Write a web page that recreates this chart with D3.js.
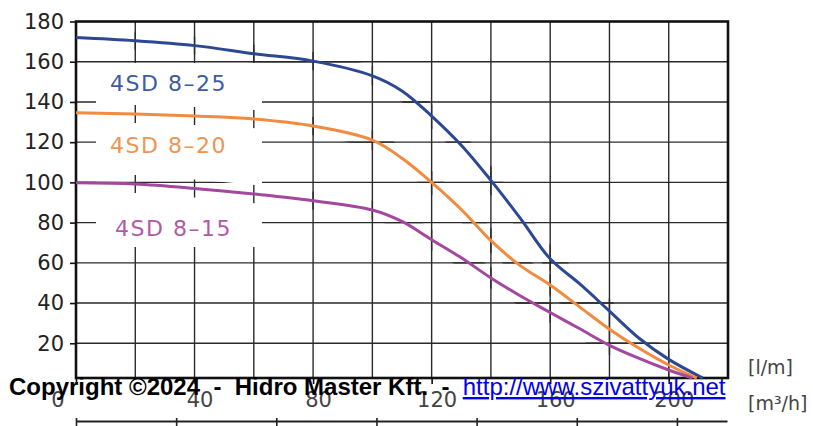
<!DOCTYPE html>
<html>
<head>
<meta charset="utf-8">
<script src="https://cdn.jsdelivr.net/npm/d3@7"></script>
<style>
body { margin: 0; background: #fff; }
svg { display: block; }
</style>
</head>
<body>
<svg width="813" height="426"></svg>
<script>
// flow in l/min, head in m
var flowBlue = [0, 20, 40, 60, 80, 100, 110, 120, 130, 140, 150, 160, 170, 180, 190, 200, 211.5];
var headBlue = [172, 170.4, 168, 164, 160.3, 153, 145.5, 133, 118.5, 101, 82, 62, 49.5, 36, 22.5, 12, 2.7];

var flowOrange = [0, 20, 40, 60, 80, 100, 110, 120, 130, 140, 150, 160, 170, 180, 190, 200, 209.5];
var headOrange = [134.6, 134, 133, 131.5, 128, 121, 112, 100, 86.5, 71, 58.5, 49, 38, 27, 17.5, 9.2, 2.7];

var flowPurple = [0, 20, 40, 60, 80, 100, 110, 120, 130, 140, 150, 160, 170, 180, 190, 200, 208];
var headPurple = [99.8, 99.2, 97, 94.2, 90.9, 86.3, 80.6, 71.5, 62.5, 52.5, 43.5, 35.3, 27.2, 19, 12.5, 6.7, 2.7];

var seriesNames = ["4SD 8\u201325", "4SD 8\u201320", "4SD 8\u201315"];

var headTicks = [20, 40, 60, 80, 100, 120, 140, 160, 180];
var flowGrid = [20, 40, 60, 80, 100, 120, 140, 160, 180, 200];
var flowTicks = [0, 40, 80, 120, 160, 200];
var m3hTicks = [0, 2, 4, 6, 8, 10, 12];

var svg = d3.select("svg");

var x = d3.scaleLinear().domain([0, 220]).range([76, 728]);
var y = d3.scaleLinear().domain([0, 180]).range([383.5, 21.5]);
var xm = d3.scaleLinear().domain([0, 13]).range([76, 727]);
var frameBottom = 378;

var series = [
    { name: seriesNames[0], color: "#2c4892", label: "#3d5ba3", flows: flowBlue, heads: headBlue, lx: 110, ly: 91 },
    { name: seriesNames[1], color: "#f08b3f", label: "#ee9552", flows: flowOrange, heads: headOrange, lx: 110, ly: 153 },
    { name: seriesNames[2], color: "#a3489e", label: "#b05aa9", flows: flowPurple, heads: headPurple, lx: 115, ly: 236 }
];
series.forEach(s => { s.points = s.flows.map((f, i) => [f, s.heads[i]]); });

var line = d3.line()
    .x(d => x(d[0]))
    .y(d => y(d[1]))
    .curve(d3.curveCatmullRom.alpha(0.5));

// mask: grid stays visible only close to the curves inside the label box
var defs = svg.append("defs");
var mask = defs.append("mask")
    .attr("id", "near")
    .attr("maskUnits", "userSpaceOnUse")
    .attr("x", 0).attr("y", 0).attr("width", 813).attr("height", 426);
mask.selectAll("path")
    .data(series)
    .join("path")
    .attr("d", d => line(d.points))
    .attr("fill", "none")
    .attr("stroke", "white")
    .attr("stroke-width", 18);

function drawGrid(g) {
    g.attr("stroke", "#2a2a2a").attr("stroke-width", 1.4);
    g.selectAll(".h")
        .data(headTicks.slice(0, -1))
        .join("line")
        .attr("class", "h")
        .attr("x1", x(0)).attr("x2", x(220))
        .attr("y1", d => y(d)).attr("y2", d => y(d));
    g.selectAll(".v")
        .data(flowGrid)
        .join("line")
        .attr("class", "v")
        .attr("x1", d => x(d)).attr("x2", d => x(d))
        .attr("y1", y(180)).attr("y2", frameBottom);
}

drawGrid(svg.append("g"));

// white box behind the labels
svg.append("rect")
    .attr("x", 96).attr("y", 63)
    .attr("width", 166).attr("height", 184)
    .attr("fill", "#fff");

drawGrid(svg.append("g").attr("mask", "url(#near)"));

// frame
svg.append("rect")
    .attr("x", x(0)).attr("y", y(180))
    .attr("width", x(220) - x(0))
    .attr("height", frameBottom - y(180))
    .attr("fill", "none")
    .attr("stroke", "#111")
    .attr("stroke-width", 2.6);

// curves
svg.append("g")
    .selectAll("path")
    .data(series)
    .join("path")
    .attr("d", d => line(d.points))
    .attr("fill", "none")
    .attr("stroke", d => d.color)
    .attr("stroke-width", 3);

// series labels
svg.append("g")
    .selectAll("text")
    .data(series)
    .join("text")
    .attr("x", d => d.lx)
    .attr("y", d => d.ly)
    .attr("fill", d => d.label)
    .style("font-family", "DejaVu Sans, sans-serif")
    .style("font-size", "22px")
    .style("letter-spacing", "1.5px")
    .text(d => d.name);

// y axis
var yAxis = svg.append("g")
    .attr("transform", "translate(" + x(0) + ",0)")
    .call(d3.axisLeft(y).tickValues(headTicks).tickSize(6).tickPadding(6));
yAxis.select(".domain").remove();
yAxis.selectAll("line").attr("stroke", "#111").attr("stroke-width", 1.6);
yAxis.selectAll("text")
    .attr("fill", "#222")
    .style("font-family", "DejaVu Sans, sans-serif")
    .style("font-size", "21px");

// x axis, l/min
var xAxis = svg.append("g")
    .attr("transform", "translate(0," + frameBottom + ")")
    .call(d3.axisBottom(x).tickValues(flowTicks).tickSize(6).tickPadding(8));
xAxis.select(".domain").remove();
xAxis.selectAll("line").attr("stroke", "#111").attr("stroke-width", 1.6);
xAxis.selectAll("text")
    .attr("fill", "#444")
    .attr("x", d => d === 0 ? -12 : 5)
    .attr("text-anchor", d => d === 0 ? "end" : "middle")
    .style("font-family", "DejaVu Sans, sans-serif")
    .style("font-size", "21px");

// x axis, m3/h (its labels fall below the picture's edge)
var mAxis = svg.append("g")
    .attr("transform", "translate(0,421)")
    .call(d3.axisBottom(xm).tickValues(m3hTicks).tickSizeInner(6).tickSizeOuter(0).tickFormat(""));
mAxis.select(".domain").attr("stroke", "#222").attr("stroke-width", 2);
mAxis.selectAll("line").attr("stroke", "#222").attr("stroke-width", 1.6).attr("y1", -3).attr("y2", 5);

// unit labels
svg.append("text")
    .attr("x", 748).attr("y", 374)
    .attr("fill", "#444")
    .style("font-family", "DejaVu Sans, sans-serif")
    .style("font-size", "19px")
    .text("[l/m]");
svg.append("text")
    .attr("x", 748).attr("y", 410)
    .attr("fill", "#444")
    .style("font-family", "DejaVu Sans, sans-serif")
    .style("font-size", "19px")
    .text("[m\u00b3/h]");

// copyright line
var copy = svg.append("text")
    .attr("x", 9).attr("y", 395)
    .style("font-family", "Liberation Sans, Arial, sans-serif")
    .style("font-size", "24px")
    .style("white-space", "pre");
copy.append("tspan")
    .attr("font-weight", "bold")
    .attr("fill", "#000")
    .text("Copyright \u00a92024  -  Hidro Master Kft.  -  ");
copy.append("tspan")
    .attr("fill", "#0000ee")
    .attr("text-decoration", "underline")
    .text("http://www.szivattyuk.net");
</script>
</body>
</html>
